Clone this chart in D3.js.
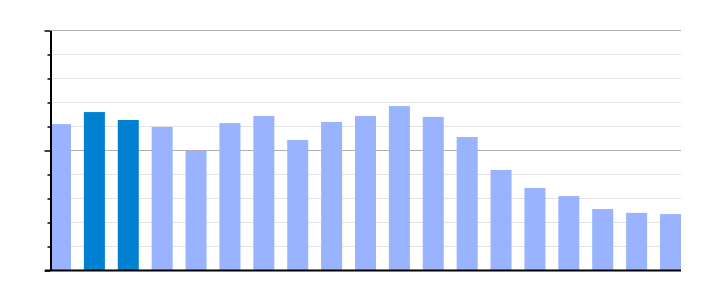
<!DOCTYPE html>
<html>
<head>
<meta charset="utf-8">
<script src="https://cdn.jsdelivr.net/npm/d3@7"></script>
<style>
  body { margin: 0; background: #fff; }
</style>
</head>
<body>
<svg id="chart"></svg>
<script>
// bar values (axis runs 0..10, no labels shown)
const categories = d3.range(1, 20).map((i) => 'c' + i);
const values = [6.08, 6.58, 6.25, 5.96, 4.96, 6.12, 6.42, 5.42, 6.17, 6.42,
  6.83, 6.38, 5.54, 4.17, 3.42, 3.08, 2.54, 2.38, 2.33];
const highlighted = ['c2', 'c3'];
const yTicks = d3.range(0, 11);

const width = 710;
const height = 300;
const margin = { top: 30, right: 29, bottom: 30, left: 50 };

const svg = d3.select('#chart').attr('width', width).attr('height', height);

const x = d3
  .scaleBand()
  .domain(categories)
  .range([margin.left, width - margin.right])
  .paddingInner(0.38)
  .paddingOuter(0);

const y = d3
  .scaleLinear()
  .domain([0, 10])
  .range([height - margin.bottom, margin.top]);

// gridlines, every fifth one darker
svg
  .append('g')
  .selectAll('line')
  .data(yTicks.filter((d) => d > 0))
  .enter()
  .append('line')
  .attr('x1', margin.left)
  .attr('x2', width - margin.right)
  .attr('y1', (d) => y(d) + 0.5)
  .attr('y2', (d) => y(d) + 0.5)
  .style('stroke', (d) => (d % 5 === 0 ? '#b0b0b0' : '#e3e3e3'))
  .style('stroke-width', 1);

// bars
svg
  .append('g')
  .selectAll('rect')
  .data(values)
  .enter()
  .append('rect')
  .attr('x', (d, i) => x(categories[i]))
  .attr('y', (d) => y(d))
  .attr('width', x.bandwidth())
  .attr('height', (d) => y(0) - y(d))
  .style('fill', (d, i) => (highlighted.includes(categories[i]) ? '#0080d0' : '#99b3ff'));

// left axis with long ticks every 5, short ticks otherwise
const yAxis = svg
  .append('g')
  .attr('transform', `translate(${margin.left + 0.5},0.5)`)
  .call(d3.axisLeft(y).tickValues(yTicks).tickFormat('').tickSizeOuter(0));
yAxis.select('.domain').style('stroke', '#000').style('stroke-width', 2);
yAxis
  .selectAll('.tick line')
  .attr('x2', (d) => (d % 5 === 0 ? -6 : -3))
  .style('stroke', '#000')
  .style('stroke-width', 1.5);

// bottom axis line
svg
  .append('line')
  .attr('x1', margin.left - 5)
  .attr('x2', width - margin.right)
  .attr('y1', y(0) + 0.5)
  .attr('y2', y(0) + 0.5)
  .style('stroke', '#000')
  .style('stroke-width', 2);
</script>
</body>
</html>
